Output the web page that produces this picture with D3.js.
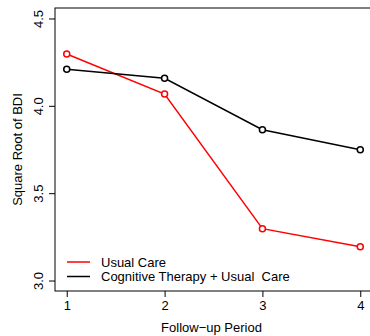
<!DOCTYPE html>
<html>
<head>
<meta charset="utf-8">
<script src="https://cdn.jsdelivr.net/npm/d3@7"></script>
<style>
  body { margin: 0; background: #fff; }
  svg { display: block; font-family: "Liberation Sans", Arial, sans-serif; }
</style>
</head>
<body>
<svg id="chart" width="370" height="336"></svg>
<script>
// follow-up periods and group means (sqrt of BDI)
const periods = [1, 2, 3, 4];
const usualCare = [4.297, 4.067, 3.297, 3.193];
const cognitiveTherapy = [4.21, 4.158, 3.863, 3.749];
const yTicks = [3.0, 3.5, 4.0, 4.5];
const seriesNames = ['Usual Care', 'Cognitive Therapy + Usual  Care'];
const seriesColors = ['#ff0000', '#000000'];

const svg = d3.select('#chart');
const plotLeft = 55, plotTop = 8, plotRight = 372, plotBottom = 291;
const fs = 13;

// R style 4% padding on both axes
const x = d3.scaleLinear().domain([0.88, 4.12]).range([plotLeft, plotRight]);
const y = d3.scaleLinear().domain([2.94, 4.56]).range([plotBottom, plotTop]);

svg.append('rect')
    .attr('x', plotLeft).attr('y', plotTop)
    .attr('width', plotRight - plotLeft).attr('height', plotBottom - plotTop)
    .attr('fill', 'none').attr('stroke', '#000').attr('stroke-width', 1);

const xAxis = svg.append('g')
    .attr('transform', `translate(0,${plotBottom})`)
    .call(d3.axisBottom(x).tickValues(periods).tickFormat(d3.format('d')).tickSize(6).tickPadding(4));
xAxis.select('.domain').remove();
xAxis.selectAll('text').attr('font-size', fs).attr('fill', '#000');

const yAxis = svg.append('g')
    .attr('transform', `translate(${plotLeft},0)`)
    .call(d3.axisLeft(y).tickValues(yTicks).tickFormat(d3.format('.1f')).tickSize(6));
yAxis.select('.domain').remove();
yAxis.selectAll('text')
    .attr('font-size', fs).attr('fill', '#000')
    .attr('text-anchor', 'middle')
    .attr('x', 0).attr('dy', null)
    .attr('transform', 'translate(-17,0) rotate(-90)')
    .attr('dominant-baseline', 'central');

svg.append('text')
    .attr('x', (plotLeft + plotRight) / 2 - 2).attr('y', 332)
    .attr('text-anchor', 'middle').attr('font-size', fs)
    .text('Follow\u2212up Period');

svg.append('text')
    .attr('transform', `translate(17,${(plotTop + plotBottom) / 2}) rotate(-90)`)
    .attr('text-anchor', 'middle').attr('dominant-baseline', 'central').attr('font-size', fs)
    .text('Square Root of BDI');

const line = d3.line().x((d, i) => x(periods[i])).y(d => y(d));
const series = [usualCare, cognitiveTherapy];

series.forEach((vals, k) => {
    svg.append('path')
        .attr('d', line(vals))
        .attr('fill', 'none').attr('stroke', seriesColors[k]).attr('stroke-width', 1.5);
    svg.selectAll(null)
        .data(vals)
        .join('circle')
        .attr('cx', (d, i) => x(periods[i]))
        .attr('cy', d => y(d))
        .attr('r', 3)
        .attr('fill', '#fff')
        .attr('stroke', seriesColors[k]).attr('stroke-width', 1.5);
});

// legend
const legend = svg.append('g');
seriesNames.forEach((name, k) => {
    const ly = 262 + k * 14.5;
    legend.append('line')
        .attr('x1', 67).attr('x2', 90).attr('y1', ly).attr('y2', ly)
        .attr('stroke', seriesColors[k]).attr('stroke-width', 1.5);
    legend.append('text')
        .attr('x', 101).attr('y', ly)
        .attr('dominant-baseline', 'central').attr('font-size', fs)
        .style('white-space', 'pre')
        .text(name);
});
</script>
</body>
</html>
